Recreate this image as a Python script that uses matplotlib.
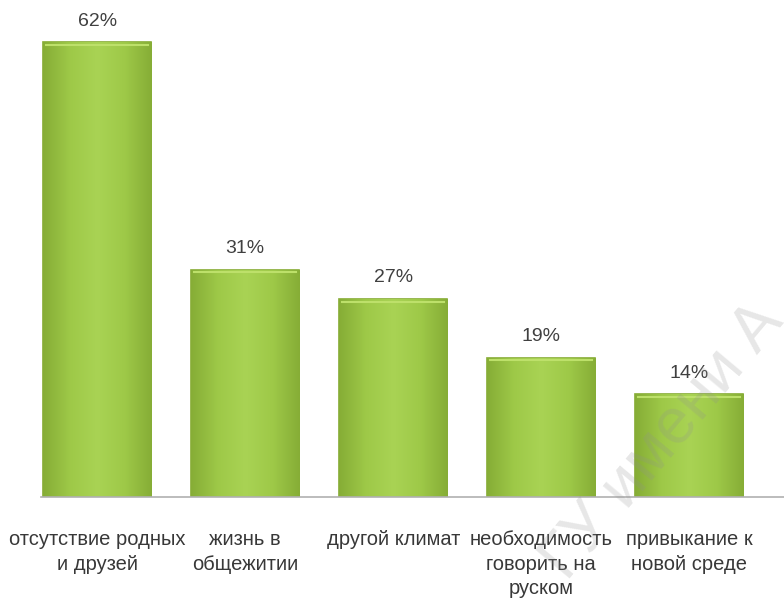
import numpy as np
import matplotlib
matplotlib.use("Agg")
import matplotlib.pyplot as plt
from matplotlib.colors import LinearSegmentedColormap

categories = ["отсутствие родных\nи друзей", "жизнь в\nобщежитии", "другой климат",
              "необходимость\nговорить на\nруском", "привыкание к\nновой среде"]
values = [62, 31, 27, 19, 14]
value_labels = ["62%", "31%", "27%", "19%", "14%"]

plt.rcParams['font.family'] = ['Liberation Sans Narrow', 'Liberation Sans', 'DejaVu Sans']

fig = plt.figure(figsize=(7.84, 6.0), dpi=100)
ax = fig.add_axes([41/784, 103/600, 1 - 41/784, 484/600])

x = np.arange(len(values))
bars = ax.bar(x, values, width=0.73, color='#9cc646', edgecolor='#86ab34', linewidth=1.2, zorder=2)

cmap = LinearSegmentedColormap.from_list('g', ['#86ad36', '#9ec948', '#a9d354', '#9ec948', '#86ad36'])
grad = np.linspace(0, 1, 256).reshape(1, -1)
for b in bars:
    x0, y0 = b.get_x(), b.get_y()
    w, h = b.get_width(), b.get_height()
    im = ax.imshow(grad, cmap=cmap, aspect='auto', extent=[x0, x0 + w, y0, y0 + h], zorder=2.5)
    im.set_clip_path(b)
    ax.plot([x0 + 0.02, x0 + w - 0.02], [y0 + h - 0.35, y0 + h - 0.35], color='#bde06a', lw=1.5, zorder=3)

for xi, v, lab in zip(x, values, value_labels):
    ax.annotate(lab, (xi, v), xytext=(0, 9), textcoords='offset points', ha='center', va='bottom',
                fontsize=14, color='#404040')

ax.set_xlim(-0.38, 4.64)
ax.set_ylim(0, 66)
ax.set_xticks(x)
ax.set_xticklabels(categories, fontsize=14.5, color='#383838', linespacing=1.35)
ax.tick_params(axis='x', length=0, pad=24)
ax.set_yticks([])
for s in ['top', 'right', 'left']:
    ax.spines[s].set_visible(False)
ax.spines['bottom'].set_color('#b0b0b0')
ax.spines['bottom'].set_linewidth(1.2)

fig.text(0.845, 0.265, "ГУ имени А", rotation=50, fontsize=46, color='#909090', alpha=0.22,
         ha='center', va='center', zorder=10)

fig.savefig("out.png", dpi=100)
